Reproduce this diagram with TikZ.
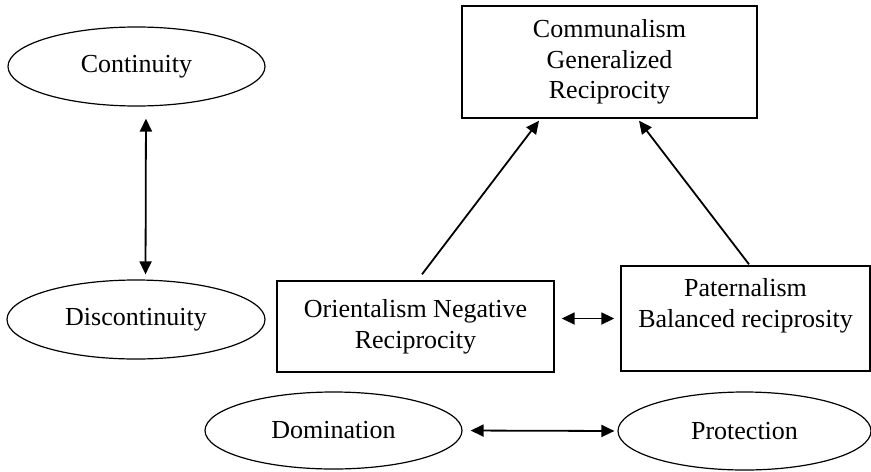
\documentclass[tikz,border=0pt]{standalone}
\usepackage{fontspec}
\setmainfont{Liberation Serif}
\usepackage{tikz}
\usetikzlibrary{shapes.geometric,arrows.meta}

\tikzset{
  oval/.style={draw, ellipse, line width=0.6pt, inner sep=0pt},
  panel/.style={draw, rectangle, line width=0.7pt, inner sep=0pt, align=center},
  link/.style={line width=0.9pt, >={Triangle[length=6.5pt,width=6pt]}}
}

\begin{document}
\begin{tikzpicture}[x=0.5pt, y=-0.5pt, font=\fontsize{13}{15.3}\selectfont]
        \useasboundingbox (0,0) rectangle (871,471);

        % left column
        \node[oval, minimum width=128.5pt, minimum height=39.5pt] (cont) at (136.5,66.5) {Continuity};
        \node[oval, minimum width=129pt, minimum height=39.5pt] (disc) at (136,319.5) {Discontinuity};

        % boxes
        \node[panel, minimum width=147.5pt, minimum height=56pt] (comm) at (609.5,62) {Communalism\\Generalized\\Reciprocity};
        \node[panel, minimum width=138.5pt, minimum height=45.5pt] (orient) at (415.5,326.5) {Orientalism Negative\\Reciprocity};
        \node[panel, minimum width=124.5pt, minimum height=52.5pt] (pat) at (745.5,318.5) {Paternalism\\Balanced reciprosity\\\mbox{}};

        % bottom row
        \node[oval, minimum width=128.5pt, minimum height=38.5pt] (dom) at (333.5,430.5) {Domination};
        \node[oval, minimum width=126.5pt, minimum height=39pt] (prot) at (744.5,431) {Protection};

        \draw[link, <->, shorten <=6pt, shorten >=2.5pt] ([xshift=4.75pt]cont.south) -- ([xshift=4.75pt]disc.north);
        \draw[link, <->, shorten <=3.5pt, shorten >=3pt] (orient.east |- pat.west) -- (pat.west);
        \draw[link, <->, shorten <=4pt, shorten >=1.5pt] (dom.east) -- (prot.west);

        \draw[link, ->] ([xshift=3.25pt,yshift=3pt]orient.north) -- ([xshift=-35.25pt,yshift=-1pt]comm.south);
        \draw[link, ->] ([xshift=1.75pt,yshift=0.5pt]pat.north) -- ([xshift=14.75pt,yshift=-1pt]comm.south);
\end{tikzpicture}
\end{document}
